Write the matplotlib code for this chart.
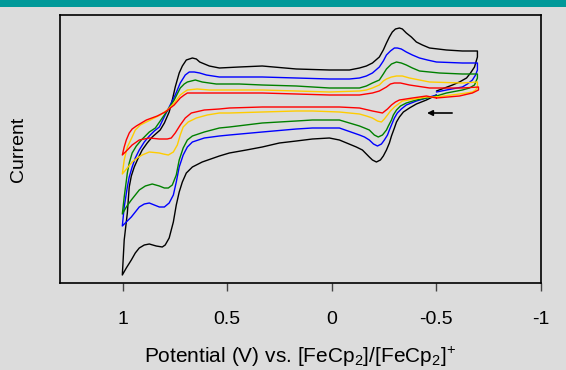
import matplotlib
matplotlib.use("Agg")
import matplotlib.pyplot as plt
from matplotlib.patches import Rectangle

# Potential (V vs. Fc/Fc+) and current (arbitrary units)
black_E = [-0.500, -0.452, -0.404, -0.371, -0.342, -0.323, -0.309, -0.299, -0.285, -0.275, -0.261, -0.246,
           -0.232, -0.213, -0.194, -0.179, -0.146, -0.117, -0.036, 0.012, 0.093, 0.170, 0.251, 0.333, 0.409,
           0.490, 0.538, 0.620, 0.667, 0.696, 0.715, 0.730, 0.744, 0.758, 0.778, 0.797, 0.811, 0.840, 0.873,
           0.897, 0.921, 0.940, 0.959, 0.983, 1.002,
           0.993, 0.978, 0.969, 0.959, 0.945, 0.926, 0.907, 0.883, 0.859, 0.821, 0.801, 0.778, 0.763, 0.749,
           0.730, 0.715, 0.696, 0.667, 0.648, 0.632, 0.586, 0.538, 0.443, 0.333, 0.170, 0.012, -0.084, -0.132,
           -0.165, -0.194, -0.227, -0.246, -0.261, -0.275, -0.289, -0.304, -0.323, -0.337, -0.356, -0.380,
           -0.404, -0.433, -0.467, -0.548, -0.624, -0.696,
           -0.696, -0.682, -0.663, -0.644, -0.610, -0.577, -0.500]
black_I = [188, 183, 179, 175, 171, 166, 161, 155, 147, 140, 133, 127,
           123, 121, 123, 126, 133, 136, 143, 145, 144, 142, 140, 136, 133,
           130, 127, 121, 116, 110, 101, 91, 78, 61, 45, 38, 36, 37, 39,
           38, 35, 30, 23, 15, 8,
           43, 70, 96, 107, 116, 125, 133, 140, 146, 153, 160, 171, 183, 196,
           210, 217, 223, 225, 224, 221, 217, 215, 216, 217, 214, 213, 213, 215,
           217, 220, 226, 233, 240, 246, 251, 254, 255, 254, 250, 246,
           241, 238, 235, 233, 232, 232,
           226, 216, 210, 205, 201, 198, 192]

blue_E = [-0.500, -0.452, -0.404, -0.356, -0.332, -0.313, -0.299, -0.289, -0.275, -0.266, -0.251, -0.237,
          -0.218, -0.199, -0.179, -0.156, -0.132, -0.036, 0.093, 0.170, 0.333, 0.490, 0.538, 0.610, 0.667,
          0.691, 0.711, 0.730, 0.744, 0.758, 0.778, 0.801, 0.825, 0.849, 0.873, 0.897, 0.921, 0.940, 0.959,
          0.983, 1.002,
          0.993, 0.978, 0.969, 0.955, 0.940, 0.921, 0.897, 0.873, 0.849, 0.825, 0.797, 0.773, 0.749, 0.725,
          0.701, 0.682, 0.658, 0.632, 0.600, 0.538, 0.443, 0.333, 0.170, 0.012, -0.084, -0.132, -0.165,
          -0.194, -0.227, -0.246, -0.261, -0.280, -0.299, -0.313, -0.332, -0.356, -0.385, -0.419, -0.457,
          -0.500, -0.624, -0.696,
          -0.696, -0.687, -0.672, -0.648, -0.624, -0.548, -0.500]
blue_I = [188, 185, 182, 178, 174, 170, 165, 160, 153, 148, 143, 139,
          137, 139, 143, 146, 148, 155, 155, 154, 151, 148, 147, 145, 141,
          136, 128, 116, 101, 88, 80, 76, 76, 78, 80, 79, 76, 71, 66,
          61, 57,
          76, 96, 106, 116, 125, 133, 141, 147, 152, 156, 168, 178, 188, 200,
          208, 211, 211, 210, 208, 206, 206, 206, 205, 204, 204, 205, 207,
          210, 216, 222, 228, 232, 235, 235, 234, 231, 228, 225, 223,
          221, 220, 220,
          213, 208, 203, 199, 196, 193, 191]

green_E = [-0.500, -0.452, -0.404, -0.356, -0.328, -0.309, -0.294, -0.285, -0.270, -0.261, -0.242, -0.222,
           -0.203, -0.179, -0.156, -0.132, -0.036, 0.093, 0.170, 0.333, 0.490, 0.538, 0.610, 0.667, 0.691,
           0.711, 0.730, 0.744, 0.763, 0.782, 0.801, 0.825, 0.859, 0.892, 0.921, 0.940, 0.959, 0.983, 1.002,
           0.993, 0.978, 0.969, 0.955, 0.935, 0.911, 0.873, 0.844, 0.811, 0.778, 0.754, 0.725, 0.706, 0.691,
           0.653, 0.620, 0.553, 0.443, 0.333, 0.170, 0.012, -0.132, -0.165, -0.194, -0.227, -0.246, -0.261,
           -0.285, -0.309, -0.332, -0.356, -0.385, -0.419, -0.467, -0.514, -0.624, -0.696,
           -0.696, -0.682, -0.658, -0.624, -0.548, -0.500]
green_I = [187, 185, 183, 180, 177, 173, 168, 163, 157, 153, 148, 146,
           148, 153, 155, 157, 163, 163, 162, 160, 156, 155, 151, 147, 143,
           135, 123, 108, 98, 95, 95, 97, 99, 97, 93, 88, 83, 76, 69,
           86, 110, 120, 130, 137, 143, 151, 155, 165, 175, 183, 195, 199, 201,
           203, 201, 199, 199, 198, 197, 195, 195, 197, 200, 203, 209, 214,
           219, 221, 220, 218, 215, 212, 211, 210, 209, 209,
           205, 198, 195, 193, 190, 187]

yellow_E = [-0.500, -0.452, -0.395, -0.337, -0.318, -0.299, -0.280, -0.266, -0.251, -0.237, -0.218, -0.194,
            -0.165, -0.132, -0.036, 0.093, 0.170, 0.333, 0.490, 0.538, 0.596, 0.648, 0.687, 0.711, 0.725,
            0.739, 0.758, 0.782, 0.806, 0.825, 0.873, 0.907, 0.931, 0.955, 0.978, 1.002,
            0.993, 0.978, 0.964, 0.955, 0.940, 0.916, 0.868, 0.821, 0.787, 0.754, 0.725, 0.706, 0.691, 0.644,
            0.586, 0.443, 0.333, 0.170, 0.012, -0.132, -0.165, -0.194, -0.227, -0.246, -0.261, -0.285, -0.309,
            -0.337, -0.371, -0.419, -0.467, -0.624, -0.696,
            -0.696, -0.687, -0.672, -0.644, -0.610, -0.500]
yellow_I = [186, 186, 184, 182, 179, 176, 172, 168, 164, 161, 162, 165,
            167, 169, 171, 172, 172, 171, 170, 170, 168, 165, 161, 156, 148,
            138, 131, 128, 129, 130, 131, 128, 125, 121, 115, 109,
            123, 136, 142, 146, 153, 158, 163, 168, 173, 180, 188, 191, 193, 194,
            193, 193, 193, 192, 191, 192, 193, 195, 198, 202, 204, 206, 207,
            207, 205, 203, 201, 200, 201,
            196, 193, 191, 190, 189, 186]

red_E = [-0.500, -0.452, -0.385, -0.323, -0.304, -0.285, -0.266, -0.242, -0.218, -0.194, -0.132, -0.036,
         0.093, 0.333, 0.490, 0.538, 0.610, 0.672, 0.701, 0.725, 0.749, 0.768, 0.787, 0.825, 0.873, 0.921,
         0.955, 0.978, 1.002,
         0.993, 0.983, 0.969, 0.955, 0.935, 0.887, 0.835, 0.797, 0.754, 0.725, 0.706, 0.691, 0.644, 0.443,
         0.333, 0.170, 0.012, -0.132, -0.194, -0.227, -0.261, -0.280, -0.299, -0.328, -0.371, -0.467,
         -0.624, -0.701,
         -0.701, -0.672, -0.610, -0.500]
red_I = [185, 187, 185, 183, 181, 178, 174, 170, 171, 172, 175, 176,
         176, 176, 175, 174, 173, 170, 165, 158, 150, 145, 144, 144, 145, 143,
         138, 133, 128,
         136, 143, 150, 154, 157, 163, 167, 171, 178, 185, 188, 190, 190, 190,
         190, 189, 188, 188, 190, 192, 196, 199, 200, 200, 198, 195,
         195, 196,
         193, 190, 187, 185]

series = [
    (black_E, black_I, "#000000"),
    (blue_E, blue_I, "#0000ff"),
    (green_E, green_I, "#008000"),
    (yellow_E, yellow_I, "#ffcc00"),
    (red_E, red_I, "#ff0000"),
]

xticks = [1, 0.5, 0, -0.5, -1]
xtick_labels = ["1", "0.5", "0", "-0.5", "-1"]

arrow_E = (-0.575, -0.455)
arrow_I = 170

plt.rcParams["font.family"] = ["Liberation Sans", "DejaVu Sans"]
plt.rcParams["axes.unicode_minus"] = False
plt.rcParams["mathtext.fontset"] = "custom"
plt.rcParams["mathtext.rm"] = "Liberation Sans"
plt.rcParams["mathtext.it"] = "Liberation Sans:italic"
plt.rcParams["mathtext.default"] = "rm"

bg = "#dcdcdc"
fig = plt.figure(figsize=(5.66, 3.70), dpi=100, facecolor=bg)
fig.patches.append(Rectangle((0, 1 - 7 / 370), 1, 7 / 370, transform=fig.transFigure,
                             facecolor="#009999", edgecolor="none", zorder=0))
ax = fig.add_axes([60 / 566, 1 - 283 / 370, 481 / 566, 268 / 370])
ax.set_facecolor(bg)

for E, I, c in series:
    ax.plot(E, I, color=c, lw=1.0, solid_joinstyle="round", solid_capstyle="round")

ax.annotate("", xy=(arrow_E[1], arrow_I), xytext=(arrow_E[0], arrow_I),
            arrowprops=dict(arrowstyle="-|>", color="black", lw=1.2,
                            mutation_scale=8, shrinkA=0, shrinkB=0))

ax.set_xlim(1.30, -1.0)
ax.set_ylim(0, 268)
ax.set_xticks(xticks)
ax.set_xticklabels(xtick_labels, fontsize=14)
ax.set_yticks([])
ax.tick_params(axis="x", direction="out", length=6, width=1, color="#444444", pad=14)
for s in ax.spines.values():
    s.set_color("black")
    s.set_linewidth(1.2)

ax.set_xlabel("Potential (V) vs. [FeCp$_2$]/[FeCp$_2$]$^{+}$", fontsize=15, labelpad=12)
ax.set_ylabel("Current", fontsize=14, labelpad=24)

fig.savefig("out.png", dpi=100, facecolor=bg)
